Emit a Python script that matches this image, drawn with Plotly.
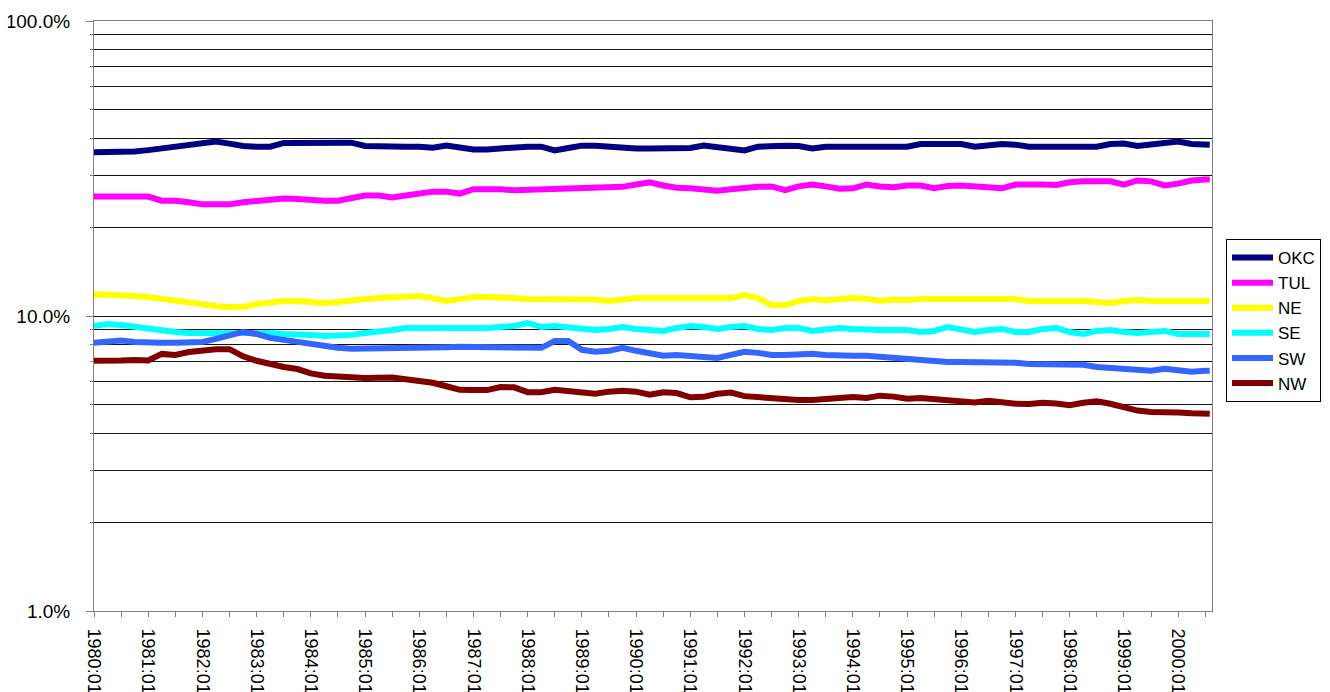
import plotly.graph_objects as go

# Period labels (quarterly samples, last point 2000:08)
periods = [f"{y}:{m:02d}" for y in range(1980, 2001) for m in (1, 4, 7, 10)]
periods[-1] = "2000:08"

# Axis tick labels (every January)
tick_labels = [f"{y}:01" for y in range(1980, 2001)]

# Shares, in percent
okc = [35.9, 35.9, 35.9, 36.1, 36.5, 37.0, 37.5, 38.3, 38.6, 39.0, 38.4, 37.7,
       37.5, 37.5, 38.6, 38.7, 38.7, 38.8, 39.0, 38.7, 37.7, 37.5, 37.5, 37.5,
       37.5, 37.2, 37.8, 37.2, 36.7, 36.7, 37.0, 37.4, 37.5, 37.5, 36.4, 37.1,
       37.8, 37.8, 37.5, 37.0, 37.0, 37.0, 37.0, 37.0, 37.1, 37.8, 37.3, 37.0,
       36.4, 37.5, 37.8, 37.8, 37.7, 37.0, 37.5, 37.5, 37.5, 37.5, 37.5, 37.5,
       37.5, 38.3, 38.4, 38.4, 38.3, 37.5, 37.8, 38.3, 38.1, 37.5, 37.5, 37.5,
       37.9, 37.5, 37.5, 38.3, 38.4, 37.7, 38.1, 38.7, 39.0, 38.3, 38.1, 38.1]
tul = [25.4, 25.4, 25.4, 25.4, 25.4, 24.6, 24.6, 24.3, 23.9, 23.9, 23.9, 24.3,
       24.6, 24.8, 25.0, 24.9, 24.7, 24.6, 24.6, 25.0, 25.6, 25.6, 25.2, 25.6,
       26.0, 26.4, 26.4, 26.0, 26.9, 27.0, 26.9, 26.7, 26.8, 26.9, 27.0, 27.1,
       27.3, 27.3, 27.3, 27.4, 27.9, 28.4, 27.7, 27.2, 27.1, 26.9, 26.6, 26.9,
       27.3, 27.4, 27.5, 26.7, 27.5, 27.9, 27.5, 27.0, 27.1, 27.9, 27.5, 27.3,
       27.7, 27.7, 27.1, 27.6, 27.7, 27.5, 27.3, 27.1, 27.9, 28.0, 27.9, 27.8,
       28.4, 28.6, 28.6, 28.6, 27.9, 28.8, 28.6, 27.7, 28.1, 28.8, 29.0, 29.0]
ne = [11.84, 11.82, 11.77, 11.68, 11.59, 11.41, 11.24, 11.06, 10.98, 10.81, 10.73, 10.73,
      10.98, 11.15, 11.24, 11.24, 11.15, 11.06, 11.15, 11.32, 11.41, 11.50, 11.55, 11.59,
      11.68, 11.50, 11.24, 11.41, 11.59, 11.59, 11.59, 11.50, 11.41, 11.41, 11.41, 11.41,
      11.41, 11.37, 11.24, 11.41, 11.50, 11.50, 11.50, 11.50, 11.50, 11.50, 11.50, 11.50,
      11.77, 11.50, 10.89, 10.89, 11.24, 11.41, 11.32, 11.41, 11.50, 11.45, 11.24, 11.37,
      11.32, 11.41, 11.41, 11.41, 11.41, 11.41, 11.41, 11.41, 11.41, 11.24, 11.24, 11.32,
      11.32, 11.24, 11.15, 11.06, 11.24, 11.32, 11.24, 11.24, 11.24, 11.15, 11.24, 11.24]
se = [9.25, 9.40, 9.32, 9.18, 9.11, 8.97, 8.83, 8.76, 8.76, 8.76, 8.76, 8.83,
      8.76, 8.76, 8.69, 8.69, 8.63, 8.56, 8.56, 8.63, 8.76, 8.83, 8.97, 9.11,
      9.11, 9.11, 9.11, 9.11, 9.04, 9.11, 9.18, 9.25, 9.47, 9.18, 9.25, 9.18,
      9.04, 8.97, 9.04, 9.18, 9.04, 8.94, 8.90, 9.11, 9.25, 9.18, 9.04, 9.18,
      9.25, 9.04, 8.97, 9.11, 9.11, 8.90, 9.04, 9.11, 9.04, 8.97, 8.97, 8.97,
      8.97, 8.83, 8.90, 9.18, 8.97, 8.83, 8.97, 9.04, 8.83, 8.83, 9.04, 9.11,
      8.83, 8.69, 8.90, 8.97, 8.83, 8.76, 8.83, 8.90, 8.69, 8.69, 8.69, 8.69]
sw = [8.12, 8.23, 8.26, 8.17, 8.11, 8.11, 8.11, 8.11, 8.17, 8.36, 8.63, 8.83,
      8.69, 8.43, 8.30, 8.17, 8.04, 7.86, 7.80, 7.74, 7.74, 7.74, 7.74, 7.74,
      7.80, 7.80, 7.83, 7.86, 7.86, 7.86, 7.86, 7.86, 7.86, 7.80, 8.23, 8.23,
      7.68, 7.56, 7.62, 7.80, 7.62, 7.45, 7.33, 7.38, 7.33, 7.27, 7.21, 7.38,
      7.56, 7.50, 7.38, 7.38, 7.45, 7.45, 7.38, 7.33, 7.33, 7.33, 7.27, 7.21,
      7.10, 7.05, 6.99, 6.99, 6.99, 6.99, 6.94, 6.94, 6.94, 6.88, 6.88, 6.88,
      6.88, 6.83, 6.72, 6.67, 6.67, 6.62, 6.52, 6.62, 6.52, 6.47, 6.52, 6.52]
nw = [7.05, 7.02, 7.07, 7.10, 7.07, 7.44, 7.38, 7.55, 7.67, 7.72, 7.72, 7.30,
      7.05, 6.86, 6.72, 6.61, 6.39, 6.27, 6.21, 6.17, 6.16, 6.17, 6.19, 6.10,
      6.01, 5.94, 5.78, 5.62, 5.61, 5.61, 5.74, 5.73, 5.52, 5.52, 5.62, 5.56,
      5.51, 5.45, 5.54, 5.58, 5.54, 5.41, 5.51, 5.48, 5.30, 5.32, 5.45, 5.50,
      5.35, 5.30, 5.30, 5.19, 5.19, 5.19, 5.24, 5.32, 5.31, 5.27, 5.37, 5.33,
      5.24, 5.27, 5.22, 5.16, 5.09, 5.09, 5.16, 5.08, 5.04, 5.03, 5.08, 5.05,
      4.98, 5.08, 5.14, 5.04, 4.91, 4.78, 4.73, 4.74, 4.71, 4.68, 4.67, 4.66]

series_names = ["OKC", "TUL", "NE", "SE", "SW", "NW"]
series_values = [okc, tul, ne, se, sw, nw]
colors = ["#000080", "#FF00FF", "#FFFF00", "#00FFFF", "#3366FF", "#800000"]


def month_index(label):
    y, m = label.split(":")
    return (int(y) - 1980) * 12 + int(m) - 1


x_pos = [month_index(p) for p in periods]
tick_pos = [month_index(t) for t in tick_labels]

FONT = "Liberation Sans, Arial, sans-serif"
# page has an 8px body margin, so the figure is drawn 8px in from the corner
W, H = 1322, 684
L, R, T, B = 86, 118, 13, 81

fig = go.Figure()
for name, vals, col in zip(series_names, series_values, colors):
    fig.add_trace(go.Scatter(
        x=x_pos, y=vals, name=name, mode="lines",
        line=dict(color=col, width=6),
        customdata=periods,
        hovertemplate="%{customdata}: %{y:.1f}%<extra>" + name + "</extra>",
    ))

minor_vals = [v * d for d in (1, 10) for v in range(2, 10)]
plot_w = W - L - R
plot_h = H - T - B

fig.update_layout(
    width=W, height=H,
    margin=dict(l=L, r=R, t=T, b=B, autoexpand=False),
    paper_bgcolor="white", plot_bgcolor="white",
    font=dict(family=FONT, size=19, color="black"),
    showlegend=True,
    legend=dict(
        xref="paper", yref="paper",
        x=(1218 - L) / plot_w, y=(H - B - 231) / plot_h,
        xanchor="left", yanchor="top",
        bgcolor="white", bordercolor="black", borderwidth=1,
        font=dict(family=FONT, size=17, color="black"),
        itemwidth=41, tracegroupgap=0,
    ),
    xaxis=dict(
        range=[0, 247.5], automargin=False,
        tickmode="array", tickvals=tick_pos, ticktext=tick_labels,
        tickangle=90, ticks="outside", ticklen=5, tickcolor="#808080",
        showgrid=False, zeroline=False,
        showline=True, linecolor="#808080", linewidth=1, mirror=True,
        ticklabelstandoff=8,
        minor=dict(tickmode="array", tickvals=[m + 6 for m in tick_pos],
                   ticks="outside", ticklen=5, tickcolor="#808080"),
        tickfont=dict(family=FONT, size=18, color="black"),
    ),
    yaxis=dict(
        type="log", range=[0, 2], automargin=False,
        tickmode="array", tickvals=[1, 10, 100],
        ticktext=["1.0%", "10.0%", "100.0%"],
        ticks="outside", ticklen=7, tickcolor="#808080",
        showgrid=True, gridcolor="#111111", gridwidth=1,
        zeroline=False,
        showline=True, linecolor="#808080", linewidth=1, mirror=True,
        ticklabelstandoff=12,
        minor=dict(tickmode="array", tickvals=minor_vals, showgrid=True,
                   gridcolor="#111111", gridwidth=1,
                   ticks="outside", ticklen=3, tickcolor="#808080"),
        tickfont=dict(family=FONT, size=19, color="black"),
    ),
)

fig.write_html("out.html")
